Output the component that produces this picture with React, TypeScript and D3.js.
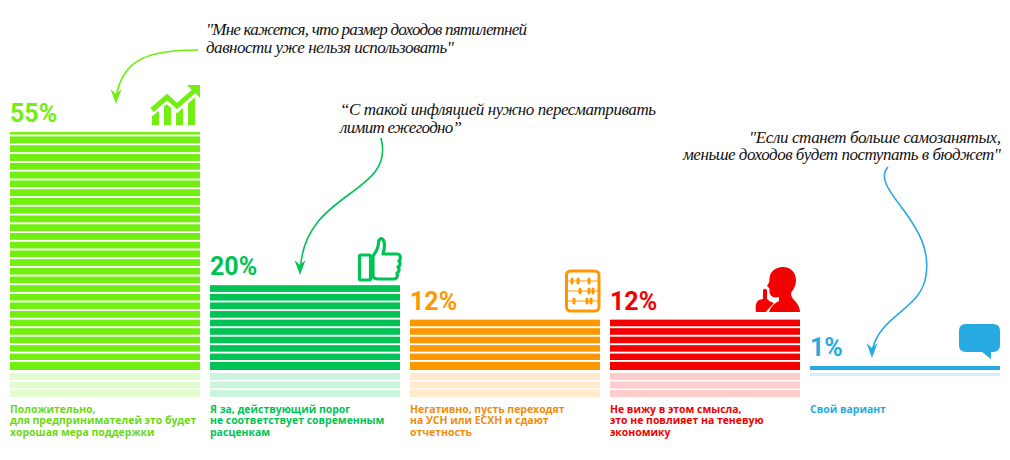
import * as d3 from "d3";

const categories = ["positive", "keep", "negative", "nosense", "other"];
const values = [55, 20, 12, 12, 1];
const colors = ["#72ee10", "#00c355", "#ff9800", "#f50000", "#27a9e1"];
const labelColors = ["#6cd815", "#00c355", "#f08c0a", "#f00000", "#27a9e1"];
const valueLabels = ["55%", "20%", "12%", "12%", "1%"];
const captions = [
  ["Положительно,", "для предпринимателей это будет", "хорошая мера поддержки"],
  ["Я за, действующий порог", "не соответствует современным", "расценкам"],
  ["Негативно, пусть переходят", "на УСН или ЕСХН и сдают", "отчетность"],
  ["Не вижу в этом смысла,", "это не повлияет на теневую", "экономику"],
  ["Свой вариант"],
];
const STRIPE = 2; // one stripe = 2%
const MIRROR = 6; // faint reflection under each stack, in %
const GAP = 1.9;

const quotes = [
  { lines: ["\"Мне кажется, что размер доходов пятилетней", "давности уже нельзя использовать\""], x: 206, y: [35, 53], w: [321, 248], anchor: "start" },
  { lines: ["“С такой инфляцией нужно пересматривать", "лимит ежегодно”"], x: 340, y: [115, 133], w: [316, 122], anchor: "start" },
  { lines: ["\"Если станет больше самозанятых,", "меньше доходов будет поступать в бюджет\""], x: 1001, y: [143, 160], w: [252, 318], anchor: "end" },
];

const x = d3.scaleBand<string>().domain(categories).range([10, 1000]).paddingInner(0.05).paddingOuter(0).align(0);
// slight power: the stacks in the picture are not quite proportional
const y = d3.scalePow().exponent(1.02).domain([0, 55]).range([370, 132]);
const mirrorStep = (y(0) - y(20)) / 10;

function Arrow({ d, tip, color }: { d: string; tip: [number, number]; color: string }) {
  const [tx, ty] = tip;
  return (
    <g>
      <path d={d} fill="none" stroke={color} strokeWidth={1.6} />
      <path d={`M${tx} ${ty}L${tx - 5.5} ${ty - 15}L${tx} ${ty - 10}L${tx + 5.5} ${ty - 15}Z`} fill={color} />
    </g>
  );
}

function GrowthIcon({ color }: { color: string }) {
  return (
    <g>
      <path d="M152 115L159 110V125H152Z" fill={color} />
      <path d="M164 104L171 100V125H164Z" fill={color} />
      <path d="M176 110L183 106V125H176Z" fill={color} />
      <path d="M188 98L195 92V125H188Z" fill={color} />
      <path d="M150 113L167 99L177 108L196 91" fill="none" stroke="#fff" strokeWidth={8} />
      <path d="M152 110L167 97L177 106L194 91" fill="none" stroke={color} strokeWidth={5} />
      <path d="M187 85H200V98Z" fill={color} />
    </g>
  );
}

function ThumbIcon({ color }: { color: string }) {
  return (
    <g fill="none" stroke={color} strokeWidth={3.2} strokeLinejoin="round">
      <rect x={359.5} y={255} width={11} height={25} rx={1.5} />
      <path d="M373 256C376 252 378.5 248 378.5 243C378.5 239 381 238 382.5 239C385 241 385 248 383 254H397C401 254 401 259 399 261C401 263 400 266 398 267C400 269 399 272 397 273C398 276 397 279 394 279H378C375 279 374 278 373 277Z" />
    </g>
  );
}

const abacusRods = [281, 291, 301];
const abacusBeads = [[572, 578, 589], [580, 589, 593], [574, 587, 591]];

function AbacusIcon({ color }: { color: string }) {
  return (
    <g>
      <rect x={566.5} y={271} width={32.5} height={40} rx={4} fill="none" stroke={color} strokeWidth={3} />
      {abacusRods.map((ry, i) => (
        <g key={ry}>
          <line x1={568} x2={598} y1={ry} y2={ry} stroke={color} strokeWidth={1} />
          {abacusBeads[i].map((bx) => (
            <rect key={bx} x={bx - 1.5} y={ry - 3.5} width={3} height={7} rx={1.5} fill={color} />
          ))}
        </g>
      ))}
    </g>
  );
}

function SilenceIcon({ color }: { color: string }) {
  return (
    <g fill={color}>
      <path d="M769 312C771 306 775 303 779 301L779 297C775 298 771 297 770 294C769 291 770 289 769 288L767 286C768 284 769.5 283 769.5 279C769.5 272 775 267 783 267C791 267 796 273 796 280C796 286 793 290 791 293C791 297 793 299 795 301C798 304 800 308 800 312Z" />
      <path d="M756 312C755 306 756 302 759 300L763 299L763 291C763 288 767 288 767 291L767 299C769 301 771 302 774 303C771 306 768 309 766 312Z" />
    </g>
  );
}

function BubbleIcon({ color }: { color: string }) {
  return <path d="M966 324H993Q1000 324 1000 331V345Q1000 352 993 352H991V359L982 352H966Q959 352 959 345V331Q959 324 966 324Z" fill={color} />;
}

function App() {
  const band = x.bandwidth();
  return (
    <svg width={1010} height={460} style={{ position: "absolute", left: 0, top: 0, background: "#fff" }}>
      {categories.map((c, i) => {
        const v = values[i];
        const x0 = x(c) as number;
        const solid = d3.range(0, v, STRIPE);
        const faint = d3.range(0, Math.min(MIRROR, v), STRIPE);
        return (
          <g key={c}>
            {solid.map((s) => {
              const top = y(Math.min(s + STRIPE, v));
              return <rect key={s} x={x0} y={top} width={band} height={y(s) - top - (s === 0 ? 0 : GAP)} fill={colors[i]} />;
            })}
            {faint.map((s) => {
              const end = Math.min(s + STRIPE, v);
              const top = 373 + (s / STRIPE) * mirrorStep;
              return <rect key={s} x={x0} y={top} width={band} height={((end - s) / STRIPE) * mirrorStep - 1.4} fill={colors[i]} opacity={0.2} />;
            })}
            <text x={x0} y={y(v) - 10} fontFamily="Roboto" fontWeight={700} fontSize={25} fill={colors[i]}>
              {valueLabels[i]}
            </text>
            <text fontFamily="'Open Sans'" fontWeight={700} fontSize={10.45} fill={labelColors[i]}>
              {captions[i].map((line, j) => (
                <tspan key={j} x={x0} y={413 + j * 11.3}>
                  {line}
                </tspan>
              ))}
            </text>
          </g>
        );
      })}

      <GrowthIcon color={colors[0]} />
      <ThumbIcon color={colors[1]} />
      <AbacusIcon color={colors[2]} />
      <SilenceIcon color={colors[3]} />
      <BubbleIcon color={colors[4]} />

      <Arrow d="M198 50C150 50 122 58 116 98" tip={[116, 104]} color={colors[0]} />
      <Arrow d="M381 138C396 195 305 190 300.5 268" tip={[300, 275]} color={colors[1]} />
      <Arrow d="M888 167C878 178 890 192 905 212C918 230 930 250 926 275C922 310 878 315 872 352" tip={[872, 358]} color={colors[4]} />

      {quotes.map((q, i) =>
        q.lines.map((line, j) => (
          <text
            key={`${i}-${j}`}
            x={q.x}
            y={q.y[j]}
            textAnchor={q.anchor}
            textLength={q.w[j]}
            lengthAdjust="spacing"
            fontFamily="'Liberation Serif'"
            fontStyle="italic"
            fontSize={17}
            fill="#111"
          >
            {line}
          </text>
        ))
      )}
    </svg>
  );
}

export default App;
